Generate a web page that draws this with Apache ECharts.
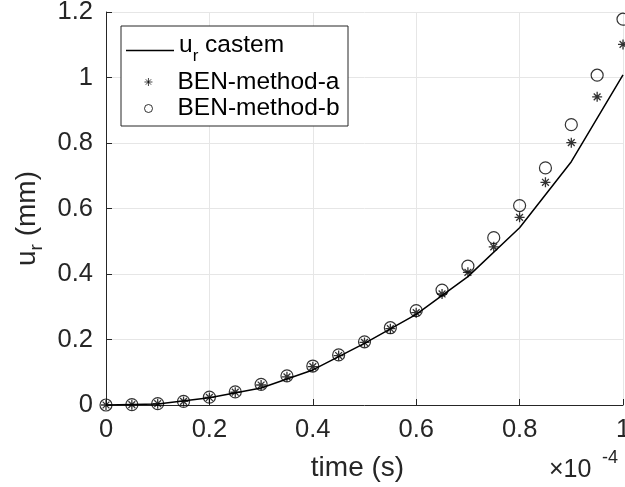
<!DOCTYPE html>
<html>
<head>
<meta charset="utf-8">
<script src="https://cdn.jsdelivr.net/npm/echarts@6/dist/echarts.min.js"></script>
<style>html,body{margin:0;padding:0;background:#fff;}#c{width:625px;height:487px;}</style>
</head>
<body>
<div id="c"></div>
<script>
// time in units of 1e-4 s
var castemTime = [0, 0.1, 0.2, 0.3, 0.4, 0.5, 0.6, 0.7, 0.8, 0.9, 1.0];
var castemUr = [0, 0.003, 0.022, 0.052, 0.107, 0.188, 0.277, 0.392, 0.541, 0.743, 1.008];
var benTime = [0, 0.05, 0.1, 0.15, 0.2, 0.25, 0.3, 0.35, 0.4, 0.45, 0.5, 0.55, 0.6, 0.65, 0.7, 0.75, 0.8, 0.85, 0.9, 0.95, 1.0];
var benA = [0, 0.001, 0.004, 0.011, 0.023, 0.039, 0.061, 0.086, 0.117, 0.151, 0.191, 0.233, 0.282, 0.339, 0.405, 0.483, 0.573, 0.680, 0.801, 0.941, 1.101];
var benB = [0, 0.001, 0.004, 0.011, 0.024, 0.040, 0.063, 0.089, 0.119, 0.153, 0.193, 0.236, 0.288, 0.351, 0.424, 0.511, 0.609, 0.724, 0.856, 1.007, 1.178];
var seriesNames = ['castem', 'BEN-method-a', 'BEN-method-b'];

function pairs(xs, ys) { return xs.map(function (x, i) { return [x, ys[i]]; }); }

var FONT = "'Liberation Sans', Arial, Helvetica, sans-serif";
var AX = '#262626';
var asterisk = 'path://M0,5L10,5M5,0L5,10M1.6,1.6L8.4,8.4M8.4,1.6L1.6,8.4';

var chart = echarts.init(document.getElementById('c'));
chart.setOption({
  animation: false,
  backgroundColor: '#fff',
  grid: { left: 106, right: 2, top: 12, bottom: 82, containLabel: false, outerBoundsMode: 'none' },
  xAxis: {
    type: 'value', min: 0, max: 1, interval: 0.2,
    name: 'time (s)', nameLocation: 'middle', nameGap: 49,
    nameTextStyle: { fontSize: 28, color: AX, fontFamily: FONT, padding: [0, 14, 0, 0] },
    axisLine: { show: true, lineStyle: { color: AX, width: 1 } },
    axisTick: { show: true, inside: true, length: 6, lineStyle: { color: AX } },
    axisLabel: { fontSize: 25.5, color: AX, fontFamily: FONT, margin: 12 },
    splitLine: { show: true, lineStyle: { color: '#e6e6e6', width: 1 } }
  },
  yAxis: {
    type: 'value', min: 0, max: 1.2, interval: 0.2,
    name: '{a|u}{s|r}{a| (mm)}', nameLocation: 'middle', nameGap: 62, nameRotate: 90,
    nameTextStyle: {
      color: AX, fontFamily: FONT, padding: [0, 20, 0, 0],
      rich: {
        a: { fontSize: 28, color: AX, fontFamily: FONT, lineHeight: 30, verticalAlign: 'middle' },
        s: { fontSize: 19, color: AX, fontFamily: FONT, lineHeight: 19, verticalAlign: 'middle', padding: [20, 0, 0, 0] }
      }
    },
    axisLine: { show: true, lineStyle: { color: AX, width: 1 } },
    axisTick: { show: true, inside: true, length: 6, lineStyle: { color: AX } },
    axisLabel: { fontSize: 25.5, color: AX, fontFamily: FONT, margin: 13 },
    splitLine: { show: true, lineStyle: { color: '#e6e6e6', width: 1 } }
  },
  legend: [
    {
      data: [{ name: seriesNames[0], icon: 'rect' }], left: 126, top: 33, padding: 0, itemWidth: 48, itemHeight: 1.5,
      formatter: function () { return '{a|u}{s|r}{a| castem}'; },
      textStyle: {
        color: '#000', fontFamily: FONT, fontSize: 24.5,
        rich: {
          a: { fontSize: 24.5, color: '#000', fontFamily: FONT, lineHeight: 24, verticalAlign: 'middle', padding: [0, 0, 10, 0] },
          s: { fontSize: 17, color: '#000', fontFamily: FONT, lineHeight: 16, verticalAlign: 'middle', padding: [12, 0, 0, 0] }
        }
      }
    },
    {
      data: [seriesNames[1]], left: 144, top: 69, padding: 0, itemWidth: 48, itemHeight: 8,
      itemStyle: { borderWidth: 0.9 },
      textStyle: { color: '#000', fontFamily: FONT, fontSize: 24.5, lineHeight: 26 }
    },
    {
      data: [seriesNames[2]], left: 144, top: 95.5, padding: 0, itemWidth: 48, itemHeight: 8,
      itemStyle: { borderWidth: 1 },
      textStyle: { color: '#000', fontFamily: FONT, fontSize: 24.5, lineHeight: 26 }
    }
  ],
  graphic: [
    { type: 'rect', shape: { x: 121, y: 26, width: 227, height: 100 }, z: 3,
      style: { fill: '#fff', stroke: AX, lineWidth: 1 } },
    { type: 'text', x: 549, y: 470, z: 5,
      style: { text: '×10', fill: AX, font: "25px 'Liberation Sans', Arial, sans-serif", align: 'left', verticalAlign: 'middle' } },
    { type: 'text', x: 602, y: 458, z: 5,
      style: { text: '-4', fill: AX, font: "18px 'Liberation Sans', Arial, sans-serif", align: 'left', verticalAlign: 'middle' } }
  ],
  series: [
    {
      name: seriesNames[0], type: 'line', data: pairs(castemTime, castemUr),
      symbol: 'none', z: 2,
      lineStyle: { color: '#000', width: 1.5 }, itemStyle: { color: '#000' }
    },
    {
      name: seriesNames[1], type: 'scatter', data: pairs(benTime, benA),
      symbol: asterisk, symbolSize: 10, z: 2,
      itemStyle: { color: 'rgba(0,0,0,0)', borderColor: '#000', borderWidth: 1.3 }
    },
    {
      name: seriesNames[2], type: 'scatter', data: pairs(benTime, benB),
      symbol: 'circle', symbolSize: 12, z: 2,
      itemStyle: { color: 'rgba(0,0,0,0)', borderColor: '#000', borderWidth: 1.2 }
    }
  ]
});
</script>
</body>
</html>
